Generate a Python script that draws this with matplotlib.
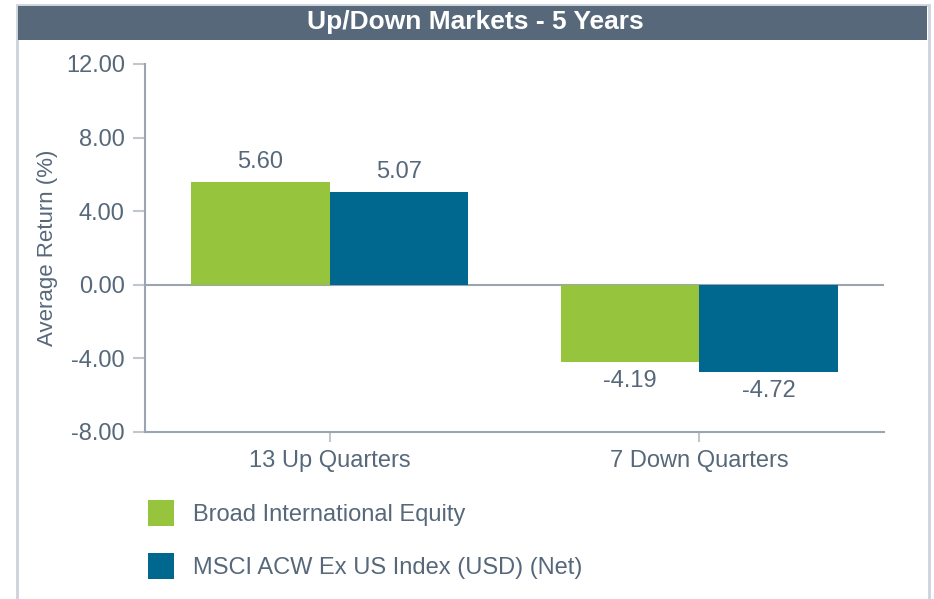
import numpy as np
import matplotlib.pyplot as plt
from matplotlib.patches import Rectangle

# data
categories = ["13 Up Quarters", "7 Down Quarters"]
series_names = ["Broad International Equity", "MSCI ACW Ex US Index (USD) (Net)"]
fund_vals = [5.60, -4.19]
index_vals = [5.07, -4.72]
yticks = [-8, -4, 0, 4, 8, 12]

GREEN = "#97c43d"
BLUE = "#00688e"
TXT = "#56687a"
AXC = "#9aa5b1"
FS = 17

plt.rcParams["font.family"] = ["Liberation Sans", "DejaVu Sans"]

W, H = 934, 599
fig = plt.figure(figsize=(W / 100, H / 100), dpi=100)

# outer frame and title bar
fig.patches.append(Rectangle((16.5 / W, -0.01), (928.5 - 16.5) / W, 1 - 4.5 / H + 0.01,
                             transform=fig.transFigure, fill=False, ec="#cdd3dc", lw=2))
fig.patches.append(Rectangle((18 / W, 1 - 40 / H), (927 - 18) / W, 34 / H,
                             transform=fig.transFigure, fc="#56687a", ec="none"))
fig.text(475 / W, 1 - 22 / H, "Up/Down Markets - 5 Years", color="white",
         fontsize=19, fontweight="bold", ha="center", va="center")

ax = fig.add_axes([145 / W, 1 - 432 / H, (884 - 145) / W, (432 - 64) / H])

x = np.arange(len(categories))
bw = 0.375
b1 = ax.bar(x - bw / 2, fund_vals, bw, color=GREEN, label=series_names[0])
b2 = ax.bar(x + bw / 2, index_vals, bw, color=BLUE, label=series_names[1])

for bars, vals in ((b1, fund_vals), (b2, index_vals)):
    for r, v in zip(bars, vals):
        off = 6 if v >= 0 else -6
        ax.annotate("%.2f" % v, (r.get_x() + r.get_width() / 2, v), xytext=(0, off),
                    textcoords="offset points", ha="center",
                    va="bottom" if v >= 0 else "top", fontsize=FS, color=TXT)

ax.axhline(0, color=AXC, lw=1.5, zorder=0)
ax.set_xlim(-0.5, 1.5)
ax.set_ylim(-8, 12)
ax.set_yticks(yticks)
ax.set_yticklabels(["%.2f" % t for t in yticks])
ax.set_xticks(x)
ax.set_xticklabels(categories)

for s in ("top", "right"):
    ax.spines[s].set_visible(False)
for s in ("left", "bottom"):
    ax.spines[s].set_color(AXC)
    ax.spines[s].set_linewidth(1.5)
ax.tick_params(axis="both", colors="#c0c7cf", labelcolor=TXT, labelsize=FS, width=1.5)
ax.tick_params(axis="y", length=9, pad=5.5)
ax.tick_params(axis="x", length=7, pad=6)
ax.set_ylabel("Average Return (%)", fontsize=16, color=TXT, labelpad=6)

fig.legend(handles=[b1, b2], labels=series_names, loc="upper left",
           bbox_to_anchor=(127 / W, 1 - 479 / H), frameon=False, fontsize=FS,
           labelcolor=TXT, handlelength=1.1, handleheight=1.3,
           labelspacing=1.15, handletextpad=0.8)

fig.savefig("out.png", dpi=100)
